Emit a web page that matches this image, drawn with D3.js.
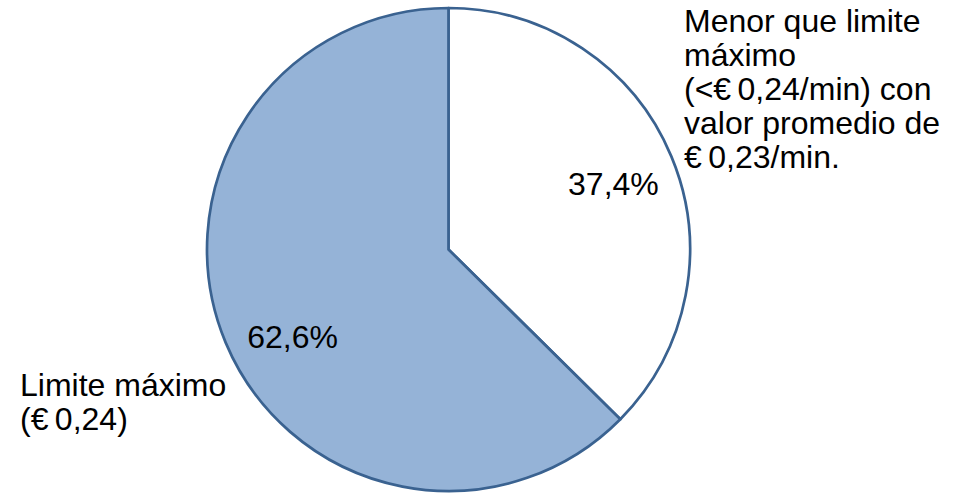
<!DOCTYPE html>
<html>
<head>
<meta charset="utf-8">
<script src="https://cdn.jsdelivr.net/npm/d3@7/dist/d3.min.js"></script>
<style>
  html, body { margin: 0; padding: 0; background: #ffffff; }
  svg { display: block; }
  text { font-family: "Liberation Sans", Arial, sans-serif; fill: #000000; }
</style>
</head>
<body>
<svg id="chart" width="953" height="493"></svg>
<script>
// Share of tariffs relative to the maximum price cap (percent)
const categories = [
  ["Menor que limite", "máximo", "(<€\u20090,24/min) con", "valor promedio de", "€\u20090,23/min."],
  ["Limite máximo", "(€\u20090,24)"]
];
const values = [37.4, 62.6];
const fills = ["#ffffff", "#95b3d7"];

const W = 953, H = 493;
const cx = 448.5, cy = 249.5, R = 241.5;
const fontSize = 32, lineHeight = 34;

const svg = d3.select("#chart");
const g = svg.append("g").attr("transform", `translate(${cx},${cy})`);

const pie = d3.pie().sort(null).value(d => d)(values);
const arc = d3.arc().innerRadius(0).outerRadius(R);

g.selectAll("path.slice")
  .data(pie)
  .join("path")
  .attr("class", "slice")
  .attr("d", arc)
  .attr("fill", (d, i) => fills[i])
  .attr("stroke", "#3a6290")
  .attr("stroke-width", 2.7)
  .attr("stroke-linejoin", "round");

// Percentage labels inside the slices
const fmt = v => d3.format(".1f")(v).replace(".", ",") + "%";
const labelArc = d3.arc().innerRadius(R * 0.74).outerRadius(R * 0.74);
const labelNudge = [[0, 3], [9, 19]];
g.selectAll("text.pct")
  .data(pie)
  .join("text")
  .attr("class", "pct")
  .attr("text-anchor", "middle")
  .attr("dominant-baseline", "central")
  .attr("font-size", fontSize)
  .attr("transform", (d, i) => {
    const [x, y] = labelArc.centroid(d);
    return `translate(${x + labelNudge[i][0]},${y + labelNudge[i][1]})`;
  })
  .text(d => fmt(d.data));

// Category names outside the pie
const catPos = [[684, 32], [20, 396]];
categories.forEach((lines, i) => {
  const t = svg.append("text")
    .attr("font-size", fontSize)
    .attr("x", catPos[i][0])
    .attr("y", catPos[i][1]);
  lines.forEach((ln, j) => {
    t.append("tspan")
      .attr("x", catPos[i][0])
      .attr("dy", j === 0 ? 0 : lineHeight)
      .text(ln);
  });
});
</script>
</body>
</html>
